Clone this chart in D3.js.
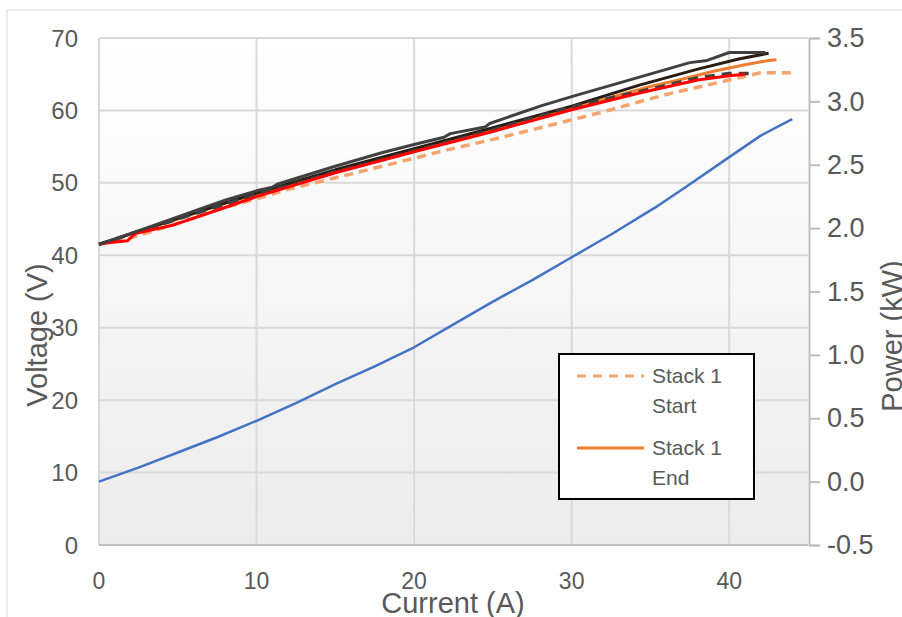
<!DOCTYPE html>
<html>
<head>
<meta charset="utf-8">
<script src="https://cdn.jsdelivr.net/npm/d3@7"></script>
<style>
  body { margin: 0; background: #fff; }
  text { font-family: "Liberation Sans", Arial, sans-serif; fill: #595959; }
</style>
</head>
<body>
<div id="chart"></div>
<script>
// Chart size
const width = 902;
const height = 617;

// Axis ticks
const xTicks = [0, 10, 20, 30, 40];
const yLeftTicks = [0, 10, 20, 30, 40, 50, 60, 70];
const yRightTicks = [-0.5, 0, 0.5, 1, 1.5, 2, 2.5, 3, 3.5];

// Stack 1 Start (light orange dashed)
const startI = [0, 2, 5, 8, 10, 12, 15, 18, 20, 22, 25, 28, 30, 32, 34.3, 36, 38, 40, 42, 44];
const startV = [41.5, 42.4, 44.4, 46.6, 47.8, 49.1, 50.7, 52.3, 53.4, 54.5, 56.0, 57.6, 58.7, 59.8, 61.2, 62.2, 63.2, 64.2, 65.2, 65.2];

// Stack 1 End (orange)
const endI = [0, 2, 5, 8, 10, 12, 15, 18, 20, 22, 25, 28, 30, 32, 35, 37, 39, 41, 42.5, 43];
const endV = [41.5, 43.0, 45.0, 47.2, 48.4, 49.7, 51.6, 53.4, 54.5, 55.7, 57.4, 59.2, 60.4, 61.5, 63.3, 64.3, 65.4, 66.3, 66.9, 67.0];

// dark line
const darkI = [0, 5, 10, 15, 20, 25, 30, 34.3, 38, 40.6, 42.5];
const darkV = [41.5, 45.1, 48.6, 51.8, 54.7, 57.6, 60.6, 63.5, 65.7, 67.1, 67.9];

// grey dashed
const greyDashI = [0, 5, 10, 15, 20, 25, 30, 34.3, 38, 40, 41.5];
const greyDashV = [41.5, 45.0, 48.4, 51.5, 54.4, 57.3, 60.5, 62.6, 64.5, 65.1, 65.1];

// red
const redI = [0, 1.8, 2.3, 4.6, 8, 10, 15, 20, 25, 30, 34.3, 38, 40, 41];
const redV = [41.6, 42.0, 43.0, 44.1, 46.6, 48.1, 51.4, 54.3, 57.1, 60.1, 62.4, 64.2, 64.8, 65.0];

// grey top
const greyI = [0, 2, 5, 8, 10, 11, 11.3, 15, 18, 20, 21.9, 22.3, 24.5, 24.8, 28, 30, 34.3, 37.5, 38.6, 40, 42.3];
const greyV = [41.5, 43.0, 45.3, 47.6, 48.9, 49.4, 49.8, 52.3, 54.2, 55.3, 56.3, 56.8, 57.7, 58.2, 60.6, 61.9, 64.6, 66.6, 66.9, 68.0, 68.0];

// Power (kW), right axis
const powerI = [0, 2.5, 5, 7.5, 10, 12.5, 15, 17.5, 20, 22.5, 25, 27.5, 30, 32.5, 35, 35.4, 37.2, 40, 42, 44];
const powerP = [0.0, 0.11, 0.23, 0.35, 0.48, 0.62, 0.77, 0.91, 1.06, 1.24, 1.42, 1.59, 1.77, 1.95, 2.14, 2.17, 2.32, 2.56, 2.73, 2.86];

const svg = d3.select("#chart")
    .append("svg")
    .attr("width", width)
    .attr("height", height);

const x = d3.scaleLinear().domain([0, 45]).range([99, 808]);
const yL = d3.scaleLinear().domain([0, 70]).range([545, 38]);
const yR = d3.scaleLinear().domain([-0.5, 3.5]).range([545, 38]);

// outer chart border
svg.append("rect")
    .attr("x", 7).attr("y", 10)
    .attr("width", 1000).attr("height", 1000)
    .attr("fill", "none")
    .attr("stroke", "#d9d9d9");

// plot background gradient
const grad = svg.append("defs").append("linearGradient")
    .attr("id", "bg").attr("x1", 0).attr("y1", 0).attr("x2", 0).attr("y2", 1);
grad.append("stop").attr("offset", "0%").attr("stop-color", "#ffffff");
grad.append("stop").attr("offset", "100%").attr("stop-color", "#ececec");

svg.append("rect")
    .attr("x", x(0)).attr("y", yL(70))
    .attr("width", x(45) - x(0)).attr("height", yL(0) - yL(70))
    .attr("fill", "url(#bg)");

// gridlines
svg.append("g")
    .selectAll("line")
    .data(yLeftTicks)
    .enter().append("line")
    .attr("x1", x(0)).attr("x2", x(45))
    .attr("y1", d => yL(d)).attr("y2", d => yL(d))
    .attr("stroke", "#d9d9d9").attr("stroke-width", 2);

svg.append("g")
    .selectAll("line")
    .data(xTicks)
    .enter().append("line")
    .attr("x1", d => x(d)).attr("x2", d => x(d))
    .attr("y1", yL(0)).attr("y2", yL(70))
    .attr("stroke", "#d9d9d9").attr("stroke-width", 2);

// bottom axis line
svg.append("line")
    .attr("x1", x(0)).attr("x2", x(45))
    .attr("y1", yL(0)).attr("y2", yL(0))
    .attr("stroke", "#bfbfbf").attr("stroke-width", 2);

// right axis
const rightAxis = d3.axisRight(yR).tickValues(yRightTicks).tickSize(11).tickFormat(d3.format(".1f"));
const rg = svg.append("g")
    .attr("transform", `translate(${x(45) + 1},0)`)
    .call(rightAxis);
rg.select(".domain").attr("stroke", "#bfbfbf").attr("stroke-width", 2);
rg.selectAll(".tick line").attr("stroke", "#bfbfbf").attr("stroke-width", 2);
rg.selectAll(".tick text")
    .attr("x", 18)
    .style("font-size", "27px")
    .style("font-family", "Liberation Sans, Arial, sans-serif")
    .attr("fill", "#595959")
    .text(d => d < 0 ? "-" + d3.format(".1f")(-d) : d3.format(".1f")(d));

// left tick labels
svg.append("g")
    .selectAll("text")
    .data(yLeftTicks)
    .enter().append("text")
    .attr("x", 78)
    .attr("y", d => yL(d) + 8.5)
    .attr("text-anchor", "end")
    .style("font-size", "24px")
    .text(d => d);

// bottom tick labels
svg.append("g")
    .selectAll("text")
    .data(xTicks)
    .enter().append("text")
    .attr("x", d => x(d))
    .attr("y", 589)
    .attr("text-anchor", "middle")
    .style("font-size", "23px")
    .text(d => d);

// axis titles
svg.append("text")
    .attr("x", 453).attr("y", 613)
    .attr("text-anchor", "middle")
    .style("font-size", "29px")
    .text("Current (A)");

svg.append("text")
    .attr("transform", "translate(47,335) rotate(-90)")
    .attr("text-anchor", "middle")
    .style("font-size", "29px")
    .text("Voltage (V)");

svg.append("text")
    .attr("transform", "translate(902,336) rotate(-90)")
    .attr("text-anchor", "middle")
    .style("font-size", "29px")
    .text("Power (kW)");

// series
const lineV = d3.line().x(d => x(d[0])).y(d => yL(d[1]));
const lineP = d3.line().x(d => x(d[0])).y(d => yR(d[1]));

const series = [
    { i: startI, v: startV, color: "#f4a46e", dash: "9,6", w: 3.5 },
    { i: endI, v: endV, color: "#ed7d31", dash: null, w: 3 },
    { i: darkI, v: darkV, color: "#2a1c12", dash: null, w: 3 },
    { i: greyDashI, v: greyDashV, color: "#404040", dash: "10,7", w: 3.5 },
    { i: redI, v: redV, color: "#ff0000", dash: null, w: 3 },
    { i: greyI, v: greyV, color: "#404040", dash: null, w: 3 }
];

svg.append("g")
    .selectAll("path")
    .data(series)
    .enter().append("path")
    .attr("d", s => lineV(d3.zip(s.i, s.v)))
    .attr("fill", "none")
    .attr("stroke", s => s.color)
    .attr("stroke-width", s => s.w)
    .attr("stroke-dasharray", s => s.dash)
    .attr("stroke-linejoin", "round");

svg.append("path")
    .attr("d", lineP(d3.zip(powerI, powerP)))
    .attr("fill", "none")
    .attr("stroke", "#4472c4")
    .attr("stroke-width", 2.5)
    .attr("stroke-linejoin", "round");

// legend
const lg = svg.append("g");
lg.append("rect")
    .attr("x", 559).attr("y", 354)
    .attr("width", 195).attr("height", 145)
    .attr("fill", "#fff")
    .attr("stroke", "#000").attr("stroke-width", 2);

lg.append("line")
    .attr("x1", 577).attr("x2", 644)
    .attr("y1", 376).attr("y2", 376)
    .attr("stroke", "#f4a46e").attr("stroke-width", 3)
    .attr("stroke-dasharray", "9,7");

lg.append("line")
    .attr("x1", 577).attr("x2", 644)
    .attr("y1", 448).attr("y2", 448)
    .attr("stroke", "#ed7d31").attr("stroke-width", 3);

const legendText = [["Stack 1", 383], ["Start", 413], ["Stack 1", 455], ["End", 485]];
lg.selectAll("text.lt")
    .data(legendText)
    .enter().append("text")
    .attr("class", "lt")
    .attr("x", 652)
    .attr("y", d => d[1])
    .style("font-size", "21px")
    .text(d => d[0]);
</script>
</body>
</html>
